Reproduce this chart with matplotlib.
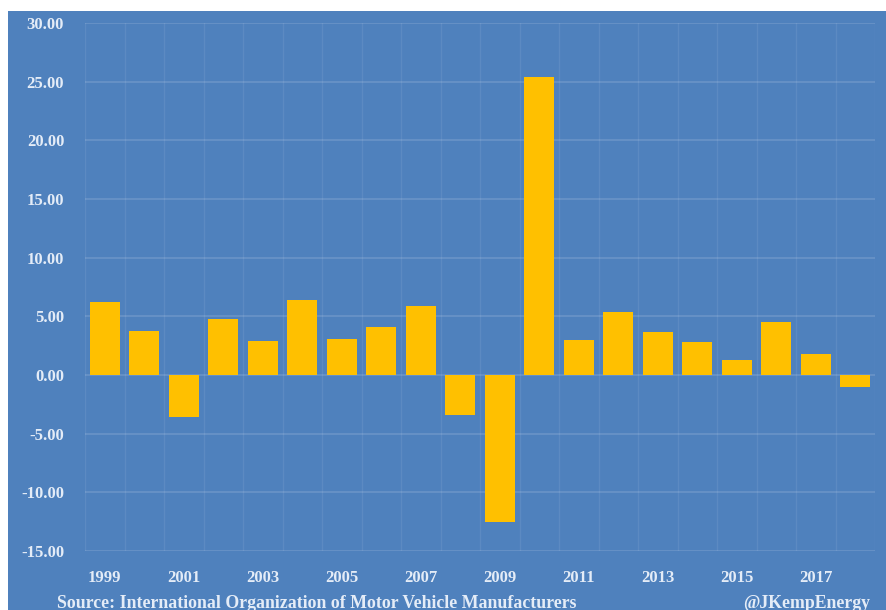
import matplotlib.pyplot as plt
import matplotlib.patches as mpatches
import numpy as np

# Dados
years = list(range(1999, 2019))
growth = [6.2, 3.75, -3.6, 4.8, 2.9, 6.4, 3.1, 4.1, 5.85, -3.45,
          -12.5, 25.4, 2.95, 5.35, 3.7, 2.85, 1.25, 4.5, 1.75, -1.0]
tick_years = list(range(1999, 2019, 2))

bg = '#4f81bd'
bar_color = '#ffc000'
txt = '#e4ecf7'
font = dict(family='Liberation Serif', weight='bold', color=txt)

fig = plt.figure(figsize=(8.87, 6.10), dpi=100, facecolor='white')
fig.add_artist(mpatches.Rectangle((8 / 887, 0), 1, 1 - 11 / 610,
                                  transform=fig.transFigure,
                                  facecolor=bg, edgecolor='none', zorder=-10))

ax = fig.add_axes([85 / 887, 1 - 551 / 610, 790 / 887, 528 / 610])
ax.set_facecolor(bg)
ax.bar(years, growth, width=0.76, color=bar_color, zorder=3)

ax.set_xlim(1998.5, 2018.5)
ax.set_ylim(-15, 30)
ax.set_yticks(np.arange(-15, 31, 5))
ax.set_yticklabels([f'{v:.2f}' for v in np.arange(-15, 31, 5)], fontsize=12, **font)
ax.set_xticks(tick_years)
ax.set_xticklabels([str(y) for y in tick_years], fontsize=12, **font)
ax.set_xticks(np.arange(1998.5, 2019, 1), minor=True)

ax.tick_params(which='both', length=0)
ax.tick_params(axis='x', pad=14)
ax.tick_params(axis='y', pad=15)
ax.grid(True, axis='y', color='white', alpha=0.15, lw=1.2, zorder=0)
ax.grid(True, axis='x', which='minor', color='white', alpha=0.08, lw=1, zorder=0)
for s in ax.spines.values():
    s.set_visible(False)

fig.text(57 / 887, 1 - 603 / 610, 'Source: International Organization of Motor Vehicle Manufacturers',
         fontsize=12.8, ha='left', va='center', **font)
fig.text(870 / 887, 1 - 603 / 610, '@JKempEnergy',
         fontsize=12.8, ha='right', va='center', **font)

plt.savefig('out.png', dpi=100, facecolor=fig.get_facecolor())
